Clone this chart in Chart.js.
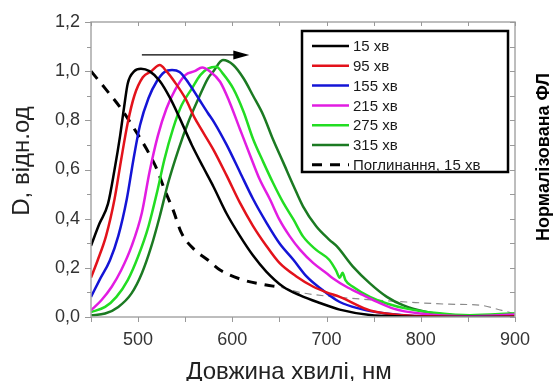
<!DOCTYPE html>
<html>
<head>
<meta charset="utf-8">
<script src="https://cdn.jsdelivr.net/npm/chart.js@4"></script>
<style>
  body { margin: 0; background: #fff; }
</style>
</head>
<body>
<canvas id="flChart" width="553" height="381"></canvas>
<script>
// wavelengths (nm) and normalized values
const wl15 = [450, 459, 468, 475, 481, 485, 489, 496, 503, 512, 523, 534, 544, 557, 569, 580, 594, 608, 622, 636, 654, 672, 693, 714, 746, 780, 820, 860, 900];
const d15 = [0.29, 0.38, 0.46, 0.60, 0.74, 0.85, 0.95, 1.0, 1.01, 1.0, 0.96, 0.89, 0.81, 0.70, 0.61, 0.53, 0.42, 0.33, 0.25, 0.185, 0.123, 0.088, 0.057, 0.030, 0.008, 0.002, 0, 0, 0];

const wl95 = [450, 457, 466, 475, 482, 489, 496, 505, 514, 523, 530, 539, 550, 560, 566, 580, 594, 608, 622, 636, 650, 668, 686, 700, 714, 746, 781, 820, 860, 900];
const d95 = [0.16, 0.23, 0.33, 0.48, 0.64, 0.79, 0.90, 0.975, 1.0, 1.025, 1.0, 0.955, 0.89, 0.81, 0.77, 0.68, 0.575, 0.465, 0.37, 0.29, 0.22, 0.165, 0.123, 0.10, 0.082, 0.027, 0.007, 0.002, 0, 0.003];

const wl155 = [450, 459, 470, 479, 488, 495, 502, 511, 520, 528, 536, 544, 553, 564, 574, 581, 594, 608, 622, 636, 650, 665, 679, 695, 714, 735, 763, 799, 850, 900];
const d155 = [0.082, 0.15, 0.23, 0.33, 0.48, 0.64, 0.78, 0.89, 0.96, 0.997, 1.005, 0.997, 0.955, 0.89, 0.83, 0.79, 0.70, 0.59, 0.48, 0.385, 0.30, 0.232, 0.164, 0.112, 0.061, 0.034, 0.014, 0.003, 0, 0];

const wl215 = [450, 461, 472, 482, 493, 504, 512, 521, 530, 539, 550, 560, 568, 576, 587, 597, 608, 619, 629, 640, 650, 661, 672, 686, 700, 707, 721, 735, 750, 771, 799, 850, 900];
const d215 = [0.027, 0.068, 0.123, 0.19, 0.287, 0.424, 0.588, 0.738, 0.847, 0.922, 0.984, 1.0, 1.015, 1.0, 0.957, 0.875, 0.765, 0.656, 0.56, 0.478, 0.396, 0.328, 0.273, 0.219, 0.178, 0.157, 0.123, 0.096, 0.068, 0.034, 0.014, 0.003, 0.01];

const wl275 = [450, 465, 477, 489, 500, 511, 520, 528, 537, 546, 557, 566, 574, 583, 590, 601, 612, 622, 633, 643, 654, 665, 675, 689, 703, 710, 714, 717, 720, 728, 746, 764, 785, 817, 852, 900];
const d275 = [0.02, 0.041, 0.082, 0.15, 0.246, 0.369, 0.506, 0.642, 0.765, 0.86, 0.929, 0.984, 1.01, 1.018, 0.99, 0.929, 0.834, 0.724, 0.629, 0.547, 0.465, 0.396, 0.328, 0.273, 0.232, 0.19, 0.16, 0.18, 0.15, 0.123, 0.082, 0.055, 0.034, 0.016, 0.007, 0.015];

const wl315 = [450, 465, 479, 493, 504, 514, 523, 532, 543, 553, 564, 574, 580, 590, 601, 612, 622, 633, 643, 654, 665, 675, 689, 703, 711, 728, 746, 764, 781, 806, 834, 870, 900];
const d315 = [0.007, 0.014, 0.041, 0.096, 0.178, 0.287, 0.41, 0.547, 0.683, 0.79, 0.888, 0.97, 1.0, 1.045, 1.025, 0.97, 0.90, 0.82, 0.724, 0.629, 0.533, 0.45, 0.369, 0.314, 0.287, 0.205, 0.137, 0.082, 0.048, 0.02, 0.007, 0.003, 0.005];

// absorption spectrum, 15 min
const wlAbs = [450, 465, 482, 496, 509, 520, 528, 537, 546, 560, 574, 587, 612, 636, 652, 672, 700, 740, 785, 830, 863, 886, 898];
const dAbs = [1.0, 0.93, 0.847, 0.765, 0.683, 0.60, 0.519, 0.437, 0.342, 0.273, 0.232, 0.191, 0.15, 0.13, 0.12, 0.10, 0.085, 0.072, 0.061, 0.052, 0.048, 0.027, 0.015];

const xTicks = [500, 600, 700, 800, 900];
const yTicks = [0, 0.2, 0.4, 0.6, 0.8, 1.0, 1.2];

const toPts = (xs, ys) => xs.map((x, i) => ({ x: x, y: ys[i] }));

function series(label, xs, ys, color) {
  return {
    label: label,
    data: toPts(xs, ys),
    borderColor: color,
    borderWidth: 2.5,
    pointRadius: 0,
    fill: false,
    cubicInterpolationMode: "monotone",
  };
}

const datasets = [
  series("15 хв", wl15, d15, "#000000"),
  series("95 хв", wl95, d95, "#e3121b"),
  series("155 хв", wl155, d155, "#1414d6"),
  series("215 хв", wl215, d215, "#e21ce2"),
  series("275 хв", wl275, d275, "#22dd22"),
  series("315 хв", wl315, d315, "#1b7a22"),
  {
    label: "Поглинання, 15 хв",
    data: toPts(wlAbs, dAbs),
    borderColor: "#000",
    borderWidth: 3,
    borderDash: [10, 8],
    pointRadius: 0,
    fill: false,
    cubicInterpolationMode: "monotone",
    segment: {
      borderColor: (c) => (c.p0.parsed.x >= 652 ? "#8a8a8a" : undefined),
      borderWidth: (c) => (c.p0.parsed.x >= 652 ? 1.2 : undefined),
      borderDash: (c) => (c.p0.parsed.x >= 652 ? [7, 5] : undefined),
    },
  },
];

// frame, ticks, arrow, legend box and titles
const decor = {
  id: "decor",
  afterDatasetsDraw(chart) {
    const ctx = chart.ctx;
    const a = chart.chartArea;
    const xs = chart.scales.x;
    const ys = chart.scales.y;
    ctx.save();

    // frame
    ctx.strokeStyle = "#a8a8a8";
    ctx.lineWidth = 1.5;
    ctx.strokeRect(a.left, a.top, a.right - a.left, a.bottom - a.top);

    // ticks
    ctx.strokeStyle = "#999";
    ctx.lineWidth = 1;
    ctx.beginPath();
    for (let v = 0; v <= 12; v++) {
      const y = Math.round(ys.getPixelForValue(v / 10)) + 0.5;
      const len = v % 2 === 0 ? 6 : 4;
      ctx.moveTo(a.left - len, y); ctx.lineTo(a.left, y);
      ctx.moveTo(a.right, y); ctx.lineTo(a.right - 5, y);
    }
    for (let w = 450; w <= 900; w += 50) {
      const x = Math.round(xs.getPixelForValue(w)) + 0.5;
      ctx.moveTo(x, a.bottom); ctx.lineTo(x, a.bottom + 5);
      ctx.moveTo(x, a.top); ctx.lineTo(x, a.top + 4);
    }
    ctx.stroke();

    // arrow showing the red shift
    const ay = ys.getPixelForValue(1.066);
    const ax0 = xs.getPixelForValue(504);
    const ax1 = xs.getPixelForValue(618);
    ctx.strokeStyle = "#000";
    ctx.lineWidth = 1.3;
    ctx.beginPath();
    ctx.moveTo(ax0, ay); ctx.lineTo(ax1 - 10, ay);
    ctx.stroke();
    ctx.fillStyle = "#000";
    ctx.beginPath();
    ctx.moveTo(ax1, ay); ctx.lineTo(ax1 - 16, ay - 4.5); ctx.lineTo(ax1 - 16, ay + 4.5);
    ctx.closePath();
    ctx.fill();

    // legend
    ctx.fillStyle = "#fff";
    ctx.fillRect(302, 31, 206, 141);
    ctx.strokeStyle = "#000";
    ctx.lineWidth = 2.5;
    ctx.strokeRect(302, 31, 206, 141);
    ctx.font = "15px 'Liberation Sans', Arial, sans-serif";
    ctx.textBaseline = "middle";
    chart.data.datasets.forEach((ds, i) => {
      const y = 46 + i * 19.8;
      ctx.strokeStyle = ds.borderColor;
      ctx.lineWidth = ds.borderWidth;
      ctx.setLineDash(ds.borderDash || []);
      ctx.beginPath();
      ctx.moveTo(312, y); ctx.lineTo(349, y);
      ctx.stroke();
      ctx.setLineDash([]);
      ctx.fillStyle = "#1a1a1a";
      ctx.fillText(ds.label, 353, y + 1);
    });

    // axis titles
    ctx.fillStyle = "#222";
    ctx.textAlign = "center";
    ctx.textBaseline = "alphabetic";
    ctx.font = "24px 'Liberation Sans', Arial, sans-serif";
    ctx.fillText("Довжина хвилі, нм", 289, 379);

    ctx.save();
    ctx.translate(29, 161);
    ctx.rotate(-Math.PI / 2);
    ctx.fillText("D, відн.од", 0, 0);
    ctx.restore();

    ctx.save();
    ctx.translate(549, 157);
    ctx.rotate(-Math.PI / 2);
    ctx.fillStyle = "#000";
    ctx.font = "bold 18px 'Liberation Sans', Arial, sans-serif";
    ctx.fillText("Нормалізована ФЛ", 0, 0);
    ctx.restore();

    ctx.restore();
  },
};

const flChart = new Chart(document.getElementById("flChart").getContext("2d"), {
  type: "line",
  data: { datasets: datasets },
  options: {
    responsive: false,
    animation: false,
    layout: { padding: { top: 22, right: 38 } },
    plugins: {
      legend: { display: false },
      tooltip: { enabled: false },
    },
    scales: {
      x: {
        type: "linear",
        min: 450,
        max: 900,
        afterFit: (s) => { s.height = 64; },
        afterBuildTicks: (s) => { s.ticks = xTicks.map((v) => ({ value: v })); },
        grid: { display: false, drawTicks: false },
        border: { display: false },
        ticks: {
          padding: 12,
          color: "#333",
          font: { family: "'Liberation Sans', Arial, sans-serif", size: 18 },
          maxRotation: 0,
        },
      },
      y: {
        min: 0,
        max: 1.2,
        afterFit: (s) => { s.width = 91; },
        afterBuildTicks: (s) => { s.ticks = yTicks.map((v) => ({ value: v })); },
        grid: { display: false, drawTicks: false },
        border: { display: false },
        ticks: {
          padding: 11,
          color: "#333",
          font: { family: "'Liberation Sans', Arial, sans-serif", size: 18 },
          callback: (v) => v.toFixed(1).replace(".", ","),
        },
      },
    },
  },
  plugins: [decor],
});
</script>
</body>
</html>
